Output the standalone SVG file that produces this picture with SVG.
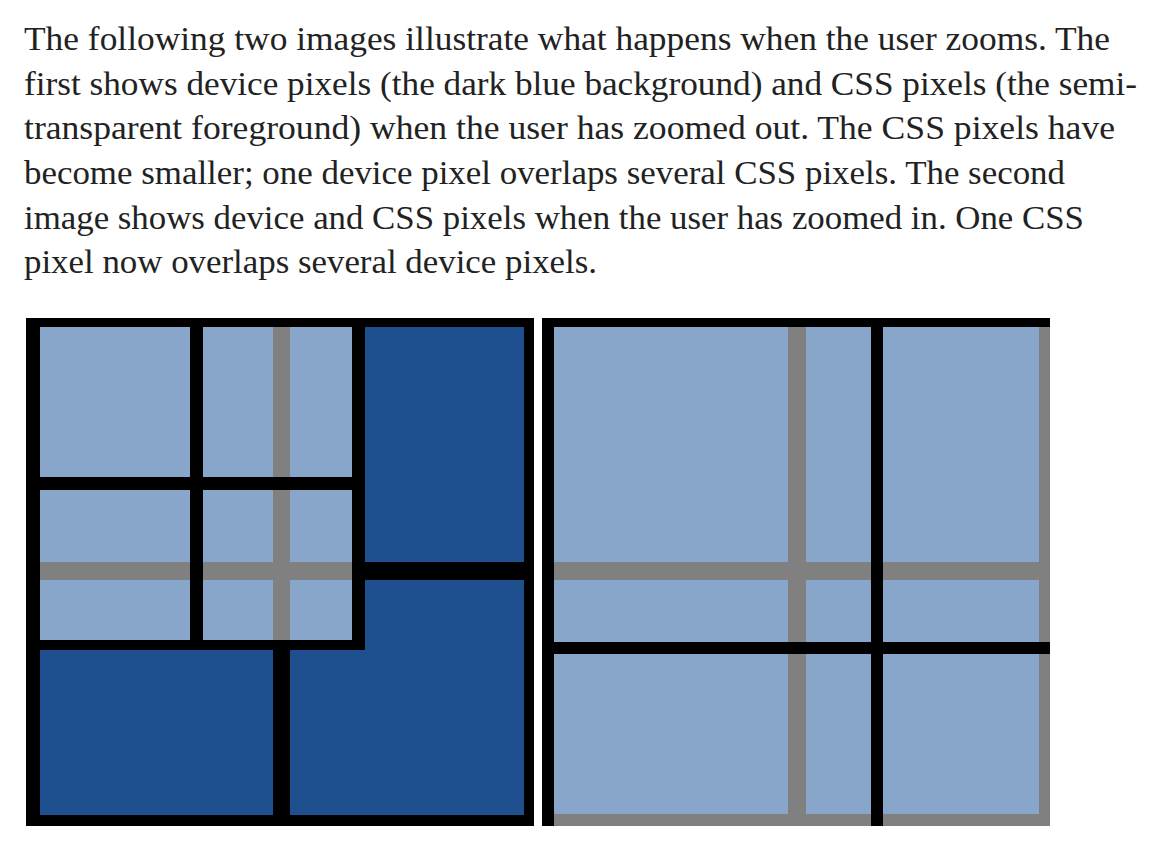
<svg xmlns="http://www.w3.org/2000/svg" width="1158" height="856" viewBox="0 0 1158 856">
<style>
.txt{font-family:"Liberation Serif","DejaVu Serif",serif;font-size:34px;fill:#222222}
.blk{fill:#000000}
.dark{fill:#1e4f8e}
.light{fill:#88a6ca}
.gray{fill:#808080}
</style>
<rect width="1158" height="856" fill="#ffffff"/>
<g id="caption">
<text class="txt" x="24" y="50" textLength="1086" lengthAdjust="spacingAndGlyphs">The following two images illustrate what happens when the user zooms. The</text>
<text class="txt" x="24" y="94.7" textLength="1113" lengthAdjust="spacingAndGlyphs">first shows device pixels (the dark blue background) and CSS pixels (the semi-</text>
<text class="txt" x="24" y="139.3" textLength="1091" lengthAdjust="spacingAndGlyphs">transparent foreground) when the user has zoomed out. The CSS pixels have</text>
<text class="txt" x="24" y="184" textLength="1041" lengthAdjust="spacingAndGlyphs">become smaller; one device pixel overlaps several CSS pixels. The second</text>
<text class="txt" x="24" y="228.7" textLength="1060" lengthAdjust="spacingAndGlyphs">image shows device and CSS pixels when the user has zoomed in. One CSS</text>
<text class="txt" x="24" y="273.3" textLength="573" lengthAdjust="spacingAndGlyphs">pixel now overlaps several device pixels.</text>
</g>
<g id="zoomed-out">
<rect class="blk" x="26" y="318" width="508" height="508"/>
<rect class="dark" x="40" y="327" width="233" height="235"/>
<rect class="dark" x="290" y="327" width="234" height="235"/>
<rect class="dark" x="40" y="580" width="233" height="235"/>
<rect class="dark" x="290" y="580" width="234" height="235"/>
<rect class="light" x="40" y="327" width="312" height="313"/>
<rect class="gray" x="273" y="327" width="17" height="313"/>
<rect class="gray" x="40" y="562" width="312" height="18"/>
<rect class="blk" x="190" y="327" width="13" height="313"/>
<rect class="blk" x="40" y="477" width="312" height="13"/>
<rect class="blk" x="352" y="327" width="13" height="323"/>
<rect class="blk" x="40" y="640" width="325" height="10"/>
</g>
<g id="zoomed-in">
<rect class="light" x="542" y="318" width="508" height="508"/>
<rect class="gray" x="788" y="318" width="18" height="508"/>
<rect class="gray" x="542" y="562" width="508" height="18"/>
<rect class="gray" x="1039" y="318" width="11" height="508"/>
<rect class="gray" x="542" y="814" width="508" height="12"/>
<rect class="blk" x="542" y="318" width="508" height="9"/>
<rect class="blk" x="542" y="318" width="12" height="508"/>
<rect class="blk" x="871" y="318" width="12" height="508"/>
<rect class="blk" x="542" y="642" width="508" height="12"/>
</g>
</svg>
